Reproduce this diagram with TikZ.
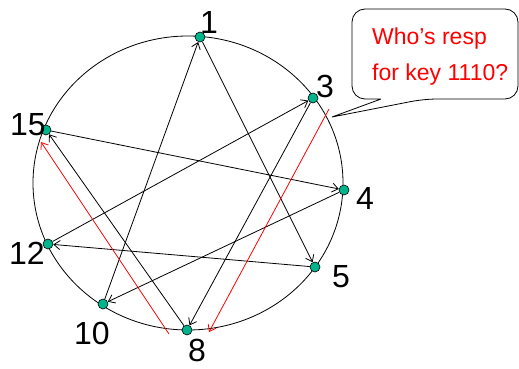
\documentclass[tikz,border=0pt]{standalone}
\usepackage{fontspec}
\setmainfont{Liberation Sans}
\usetikzlibrary{arrows.meta}
\definecolor{dotgreen}{RGB}{0,180,140}
\tikzset{
  peer/.style={circle,draw=black,fill=dotgreen,inner sep=0pt,minimum size=10pt,line width=0.6pt},
  num/.style={font=\fontsize{32}{36}\selectfont,inner sep=0pt},
  link/.style={draw=black,line width=0.8pt,-{Straight Barb[length=6pt,width=9pt]}},
  redlink/.style={draw=red,line width=0.8pt,-{Straight Barb[length=6pt,width=9pt]}},
}
\begin{document}
\begin{tikzpicture}[x=1pt,y=-1pt]
\useasboundingbox (0,0) rectangle (519,369);
% ring
\draw[line width=0.8pt] (188,183) ellipse [x radius=155, y radius=147];
% peers
\node[peer] (n1) at (200,37) {};
\node[peer] (n3) at (313,98) {};
\node[peer] (n4) at (344,190) {};
\node[peer] (n5) at (315,267) {};
\node[peer] (n8) at (187,330) {};
\node[peer] (n10) at (103,304) {};
\node[peer] (n12) at (48,244) {};
\node[peer] (n15) at (46,130) {};
% labels
\node[num] (l1) at (209,22) {1};
\node[num] (l3) at (325,86) {3};
\node[num] (l4) at (365,198) {4};
\node[num] (l5) at (341,277) {5};
\node[num] (l8) at (197,350) {8};
\node[num] (l10) at (92,333) {10};
\node[num] (l12) at (27,253) {12};
\node[num] (l15) at (28,125) {15};
% fingers
\draw[link] (n10) -- (n1);
\draw[link] (n1) -- (n5);
\draw[link] (n5) -- (n12);
\draw[link] (n12) -- (n3);
\draw[link] (n3) -- (n8);
\draw[link] (n8) -- (n15);
\draw[link] (n15) -- (n4);
\draw[link] (n4) -- (n10);
% lookup path
\coordinate (r1s) at (329,109);
\coordinate (r1e) at (209,332);
\coordinate (r2s) at (169,334);
\coordinate (r2e) at (41,142);
\draw[redlink] (r1s) -- (r1e);
\draw[redlink] (r2s) -- (r2e);
% callout
\coordinate (tip) at (332,117);
\draw[line width=0.8pt,fill=white,rounded corners=13pt]
  (381,99) -- (352,99) -- (352,9) -- (518,9) -- (518,99) -- (424,99)
  [sharp corners] -- (tip) -- (381,99);
\node[anchor=base west,text=red,font=\fontsize{23}{27}\selectfont,inner sep=0pt] (q1) at (372,45) {Who’s resp};
\node[anchor=base west,text=red,font=\fontsize{23}{27}\selectfont,inner sep=0pt] (q2) at (372,80) {for key 1110?};
\end{tikzpicture}
\end{document}
